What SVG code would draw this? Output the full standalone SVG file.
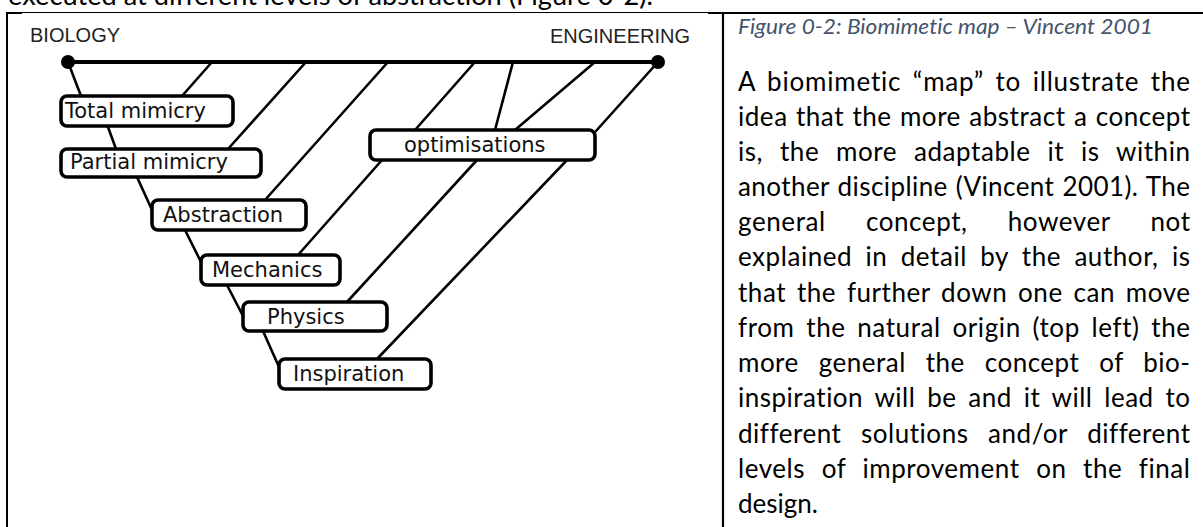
<svg xmlns="http://www.w3.org/2000/svg" width="1203" height="527" viewBox="0 0 1203 527">
<style>
.box{fill:#fff;stroke:#000;stroke-width:3.6}
.lbl{font-family:"DejaVu Sans",sans-serif;font-size:21px;fill:#111}
.end{font-family:"Liberation Sans",Arial,sans-serif;font-size:20px;fill:#222}
.con line{stroke:#000;stroke-width:2.6;stroke-linecap:round}
.body{font-family:Lato,"Liberation Sans",sans-serif;font-size:26px;fill:#000;font-variant-ligatures:none}
.cap{font-family:Lato,"Liberation Sans",sans-serif;font-size:21px;font-style:italic;fill:#44546A;font-variant-ligatures:none}
.rule{stroke:#000}
</style>
<rect width="1203" height="527" fill="#fff"/>
<g id="page">
<text class="body" x="8" y="5" textLength="645" lengthAdjust="spacingAndGlyphs">executed at different levels of abstraction (Figure 0-2).</text>
<line class="rule" x1="7" y1="12.5" x2="1203" y2="12.5" stroke-width="1"/>
<line class="rule" x1="7" y1="13" x2="22" y2="13" stroke-width="2"/>
<line class="rule" x1="708" y1="13" x2="1203" y2="13" stroke-width="2"/>
<line class="rule" x1="7" y1="12" x2="7" y2="527" stroke-width="2"/>
<line class="rule" x1="723" y1="12" x2="723" y2="527" stroke-width="2.2"/>
</g>
<g id="connectors" class="con">
<line x1="68" y1="62" x2="658" y2="62" style="stroke-width:4"/>
<line x1="68" y1="62" x2="81" y2="96"/>
<line x1="108" y1="127" x2="116" y2="149"/>
<line x1="137" y1="177" x2="152" y2="210"/>
<line x1="185" y1="230" x2="201" y2="262"/>
<line x1="227" y1="285" x2="243" y2="316"/>
<line x1="263" y1="331" x2="279" y2="367"/>
<line x1="212" y1="62" x2="182" y2="96"/>
<line x1="306" y1="62" x2="228" y2="149"/>
<line x1="388" y1="62" x2="265" y2="200"/>
<line x1="475" y1="62" x2="415" y2="130"/>
<line x1="513" y1="62" x2="495" y2="130"/>
<line x1="595" y1="62" x2="515" y2="130"/>
<line x1="658" y1="62" x2="596" y2="131"/>
<line x1="382" y1="160" x2="298" y2="255"/>
<line x1="477" y1="160" x2="347" y2="302"/>
<line x1="567" y1="160" x2="377" y2="359"/>
</g>
<g id="biology"><circle cx="68" cy="62" r="7" fill="#000"/><text class="end" x="30" y="42">BIOLOGY</text></g>
<g id="engineering"><circle cx="658" cy="62" r="7" fill="#000"/><text class="end" x="690" y="43" text-anchor="end">ENGINEERING</text></g>
<g id="total-mimicry"><rect class="box" x="61" y="96" width="172" height="30" rx="6"/><text class="lbl" x="65" y="118">Total mimicry</text></g>
<g id="partial-mimicry"><rect class="box" x="61" y="149" width="200" height="28" rx="6"/><text class="lbl" x="70" y="169">Partial mimicry</text></g>
<g id="abstraction"><rect class="box" x="152" y="200" width="154" height="30" rx="6"/><text class="lbl" x="163" y="222">Abstraction</text></g>
<g id="mechanics"><rect class="box" x="201" y="255" width="139" height="30" rx="6"/><text class="lbl" x="212" y="277">Mechanics</text></g>
<g id="physics"><rect class="box" x="243" y="302" width="144" height="29" rx="6"/><text class="lbl" x="267" y="324">Physics</text></g>
<g id="inspiration"><rect class="box" x="279" y="359" width="152" height="30" rx="6"/><text class="lbl" x="293" y="381">Inspiration</text></g>
<g id="optimisations"><rect class="box" x="370" y="130" width="225" height="30" rx="6"/><text class="lbl" x="404" y="152">optimisations</text></g>
<g id="caption-text">
<text class="cap" x="738" y="34" textLength="415" lengthAdjust="spacingAndGlyphs">Figure 0-2: Biomimetic map – Vincent 2001</text>
<text class="body" x="738" y="91" word-spacing="4.1" textLength="452" lengthAdjust="spacing">A biomimetic “map” to illustrate the</text>
<text class="body" x="738" y="126" word-spacing="1.2" textLength="452" lengthAdjust="spacing">idea that the more abstract a concept</text>
<text class="body" x="738" y="161" word-spacing="9.7" textLength="452" lengthAdjust="spacing">is, the more adaptable it is within</text>
<text class="body" x="738" y="196" word-spacing="1" textLength="452" lengthAdjust="spacing">another discipline (Vincent 2001). The</text>
<text class="body" x="738" y="231" word-spacing="32.9" textLength="452" lengthAdjust="spacing">general concept, however not</text>
<text class="body" x="738" y="266" word-spacing="6.2" textLength="452" lengthAdjust="spacing">explained in detail by the author, is</text>
<text class="body" x="738" y="302" word-spacing="3.7" textLength="452" lengthAdjust="spacing">that the further down one can move</text>
<text class="body" x="738" y="337" word-spacing="4.4" textLength="452" lengthAdjust="spacing">from the natural origin (top left) the</text>
<text class="body" x="738" y="372" word-spacing="12.8" textLength="452" lengthAdjust="spacing">more general the concept of bio-</text>
<text class="body" x="738" y="407" word-spacing="4.7" textLength="452" lengthAdjust="spacing">inspiration will be and it will lead to</text>
<text class="body" x="738" y="443" word-spacing="12.5" textLength="452" lengthAdjust="spacing">different solutions and/or different</text>
<text class="body" x="738" y="478" word-spacing="9.3" textLength="452" lengthAdjust="spacing">levels of improvement on the final</text>
<text class="body" x="738" y="513">design.</text>
</g>
</svg>
